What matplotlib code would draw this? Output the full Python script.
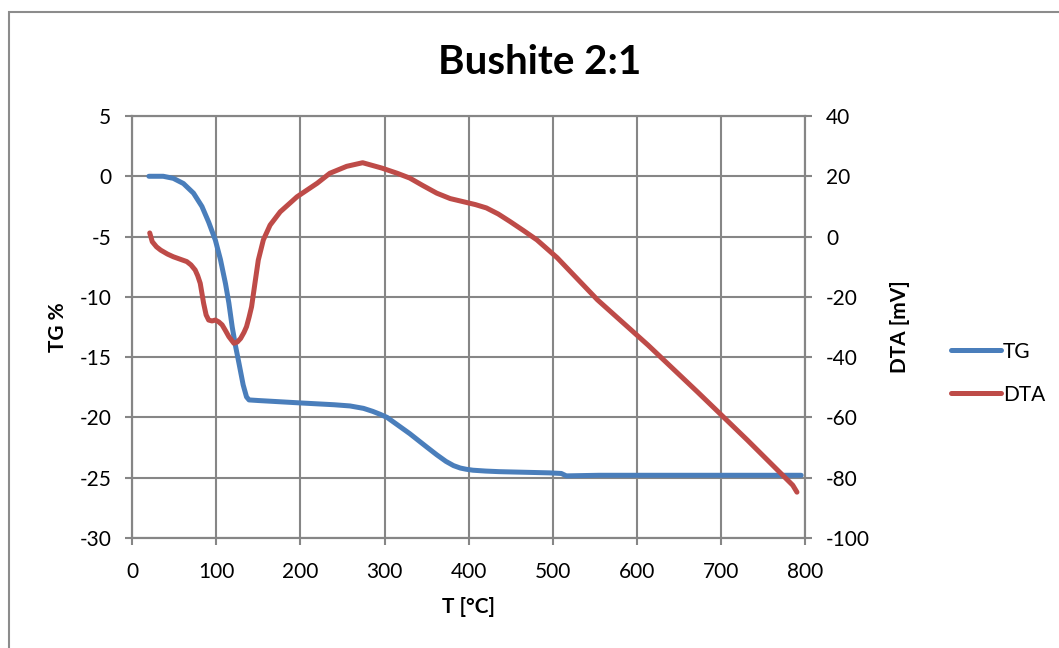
import matplotlib
matplotlib.use('Agg')
import matplotlib.pyplot as plt
from matplotlib.patches import Rectangle

plt.rcParams['font.family'] = ['Lato', 'DejaVu Sans']
plt.rcParams['axes.unicode_minus'] = False

# TG curve (temperature in C, mass change in %)
tg_t = [20, 24, 37, 49, 61, 73, 83, 91, 99, 105, 111, 115, 119, 123, 127, 132, 136, 139,
        150, 200, 240, 259, 275, 286, 295, 303, 312, 320, 330, 340, 350, 362, 373, 382, 390, 397,
        405, 420, 436, 496, 510, 516, 555, 650, 750, 795]
tg_v = [0.0, 0.0, 0.0, -0.17, -0.6, -1.4, -2.5, -3.8, -5.3, -6.9, -8.9, -10.5, -12.5, -14.1, -15.5,
        -17.3, -18.3, -18.55, -18.6, -18.8, -18.95, -19.05, -19.25, -19.5, -19.75, -20.0, -20.45,
        -20.85, -21.35, -21.9, -22.45, -23.1, -23.65, -24.0, -24.2, -24.3, -24.38, -24.45, -24.5,
        -24.6, -24.65, -24.85, -24.8, -24.8, -24.8, -24.8]

# DTA curve (temperature in C, signal in mV)
dta_t = [21, 24, 29, 34, 42, 49, 57, 65, 70, 75, 78, 81, 85, 88, 91, 95, 99, 103, 107, 111, 115, 121,
         125, 129, 133, 136, 139, 142, 146, 150, 156, 164, 176, 196, 220, 235, 255, 274, 297, 315, 330,
         345, 362, 378, 393, 408, 421, 435, 449, 465, 481, 505, 553, 613, 672, 731, 767, 785, 790]
dta_v = [1.2, -1.7, -3.4, -4.5, -5.8, -6.7, -7.5, -8.3, -9.4, -11.1, -13.0, -15.5, -22.1, -26.0, -27.7,
         -28.0, -27.7, -28.3, -29.3, -31.2, -33.2, -35.4, -35.0, -33.8, -31.8, -29.9, -26.8, -23.3, -15.5,
         -7.8, -1.1, 3.8, 8.2, 13.2, 17.7, 21.0, 23.3, 24.5, 22.7, 21.0, 19.4, 17.0, 14.4, 12.6, 11.6,
         10.6, 9.5, 7.5, 5.0, 2.0, -1.1, -7.0, -21.0, -36.0, -51.6, -67.5, -77.5, -82.5, -84.8]

blue = '#4A7EBB'
red = '#BE4B48'
grid_c = '#868686'

fig = plt.figure(figsize=(10.59, 6.48), dpi=100)
fig.patches.append(Rectangle((0.0085, -0.1), 1.2, 1.0815, transform=fig.transFigure,
                             fill=False, edgecolor='#8c8c8c', linewidth=1.5))

ax = fig.add_axes([0.1247, 0.1698, 0.6358, 0.6512])
ax2 = ax.twinx()

l1, = ax.plot(tg_t, tg_v, color=blue, linewidth=3.6, solid_capstyle='round',
              solid_joinstyle='round', label='TG')
l2, = ax2.plot(dta_t, dta_v, color=red, linewidth=3.6, solid_capstyle='round',
               solid_joinstyle='round', label='DTA')

ax.set_xlim(0, 800)
ax.set_ylim(-30, 5)
ax2.set_ylim(-100, 40)
ax.set_xticks(range(0, 801, 100))
ax.set_yticks(range(-30, 6, 5))
ax2.set_yticks(range(-100, 41, 20))
ax.grid(True, color=grid_c, linewidth=1.5)
ax.set_axisbelow(True)

for a in (ax, ax2):
    for s in a.spines.values():
        s.set_color(grid_c)
        s.set_linewidth(1.5)
    a.tick_params(colors=grid_c, labelcolor='black', labelsize=15, width=1.5, length=5, pad=10)
ax.tick_params(axis='x', pad=12)

ax.set_xlabel('T [°C]', fontsize=15, fontweight='bold', labelpad=11)
ax.set_ylabel('TG %', fontsize=15, fontweight='bold', labelpad=8)
ax2.set_ylabel('DTA [mV]', fontsize=15, fontweight='bold', labelpad=14)
fig.text(0.51, 0.904, 'Bushite 2:1', fontsize=29, fontweight='bold', ha='center', va='center')

fig.legend(handles=[l1, l2], loc='center left', bbox_to_anchor=(0.898, 0.424), frameon=False,
           fontsize=15, handlelength=2.4, labelspacing=1.1, handletextpad=0.1, borderpad=0,
           borderaxespad=0)

fig.savefig('out.png', dpi=100)
